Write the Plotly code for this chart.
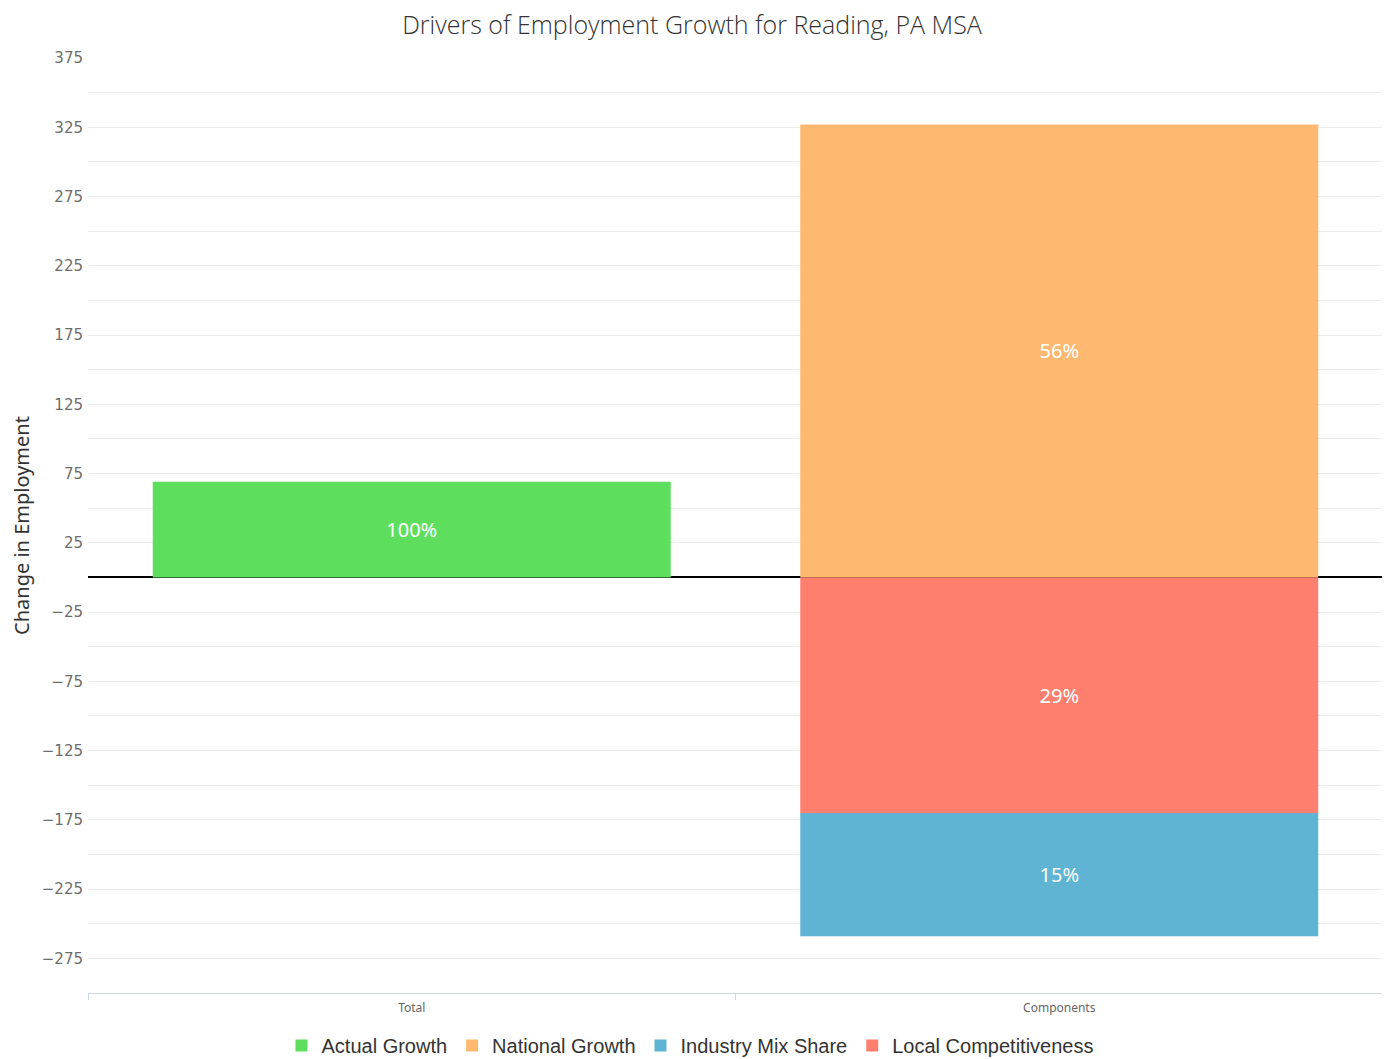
import plotly.graph_objects as go

categories = ["Total", "Components"]
actual_growth = [69, None]
national_growth = [None, 327]
local_competitiveness = [None, -170]
industry_mix = [None, -89]

actual_labels = ["100%", ""]
national_labels = ["", "56%"]
local_labels = ["", "29%"]
industry_labels = ["", "15%"]

colors = {
    "Actual Growth": "#5ddf5d",
    "National Growth": "#ffb870",
    "Industry Mix Share": "#5eb4d2",
    "Local Competitiveness": "#ff7f6e",
}

W, H = 1382, 1051

fig = go.Figure()
text_font = dict(family="Noto Sans, Open Sans, sans-serif", size=20, color="white")

def add(name, vals, labels, rank):
    fig.add_trace(go.Bar(
        x=categories, y=vals, name=name, text=labels,
        textposition="inside", insidetextanchor="middle",
        textfont=text_font, marker=dict(color=colors[name], line=dict(width=0)),
        legendrank=rank, hoverinfo="skip",
    ))

add("Actual Growth", actual_growth, actual_labels, 1)
add("National Growth", national_growth, national_labels, 2)
add("Local Competitiveness", local_competitiveness, local_labels, 4)
add("Industry Mix Share", industry_mix, industry_labels, 3)

fig.update_layout(
    width=W, height=H,
    barmode="relative", bargap=0.2,
    paper_bgcolor="white", plot_bgcolor="white",
    margin=dict(l=80, r=7, t=50, b=66, autoexpand=False),
    title=dict(text="Drivers of Employment Growth for Reading, PA MSA",
               x=684 / W, xanchor="center", xref="container",
               y=1 - 17 / H, yanchor="middle", yref="container",
               font=dict(family="Open Sans, sans-serif", size=25, color="#333333", weight=300)),
    showlegend=True,
    legend=dict(orientation="h", x=682 / W, xanchor="center", xref="container",
                y=1 - 1018 / H, yanchor="top", yref="container",
                font=dict(family="Liberation Sans, Arial, sans-serif", size=20, color="#333333"),
                traceorder="normal", itemwidth=30, tracegroupgap=0),
)

fig.update_yaxes(
    automargin=False,
    range=[-300, 375], tickmode="linear", tick0=-275, dtick=50,
    showgrid=True, gridcolor="#ececec", gridwidth=1,
    minor=dict(tick0=-300, dtick=25, showgrid=True, gridcolor="#ececec", gridwidth=1),
    zeroline=True, zerolinecolor="black", zerolinewidth=2,
    tickfont=dict(family="DejaVu Sans, Noto Sans, sans-serif", size=15, color="#6e6e6e"),
    title=dict(text="Change in Employment", standoff=24,
               font=dict(family="Noto Sans, Open Sans, sans-serif", size=20, color="#333333")),
    showline=False, ticks="", ticklabelstandoff=4,
)

fig.update_xaxes(
    automargin=False,
    type="category", showline=True, linecolor="#ccd6eb", linewidth=1,
    tickson="boundaries", ticks="outside", ticklen=6, tickcolor="#ccd6eb",
    showgrid=False, ticklabelstandoff=4,
    tickfont=dict(family="Noto Sans, Open Sans, sans-serif", size=12, color="#666666"),
)

fig.write_html("out.html")
